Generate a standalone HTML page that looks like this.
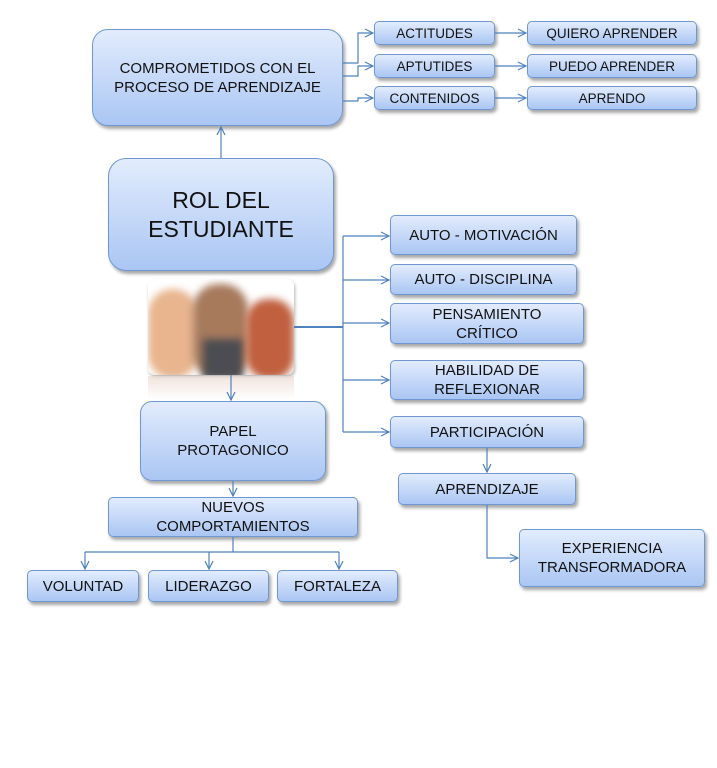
<!DOCTYPE html>
<html><head><meta charset="utf-8"><style>
body{margin:0;width:717px;height:768px;background:#fff;position:relative;overflow:hidden;font-family:"Liberation Sans","DejaVu Sans",sans-serif;}
.b{position:absolute;box-sizing:border-box;border:1px solid #6f97d2;border-radius:5px;background:linear-gradient(#e2ecfd,#aac6f3);box-shadow:2px 3px 3px rgba(0,0,0,.35);display:flex;align-items:center;justify-content:center;text-align:center;color:#111;font-size:15px;line-height:19px;}
.s{font-size:13.5px;}
svg{position:absolute;left:0;top:0;z-index:5;}
</style></head><body>
<svg width="717" height="768" fill="none" stroke="#4f81bd" stroke-width="1.2">
<defs><marker id="a" markerWidth="10" markerHeight="10" refX="9" refY="5" orient="auto" markerUnits="userSpaceOnUse"><path d="M1,1 L9,5 L1,9" stroke="#4f81bd" fill="none"/></marker></defs>
<path d="M343,63H358V33H373" marker-end="url(#a)"/>
<path d="M343,76H358V66H373" marker-end="url(#a)"/>
<path d="M343,101H358V98H373" marker-end="url(#a)"/>
<path d="M495,33H526" marker-end="url(#a)"/>
<path d="M495,66H526" marker-end="url(#a)"/>
<path d="M495,98H526" marker-end="url(#a)"/>
<path d="M221,158V127" marker-end="url(#a)"/>
<path d="M294,327H343" stroke-width="2"/>
<path d="M343,236V432"/>
<path d="M343,236H389" marker-end="url(#a)"/>
<path d="M343,280H389" marker-end="url(#a)"/>
<path d="M343,323H389" marker-end="url(#a)"/>
<path d="M343,380H389" marker-end="url(#a)"/>
<path d="M343,432H389" marker-end="url(#a)"/>
<path d="M231,375V400" marker-end="url(#a)"/>
<path d="M233,481V496" marker-end="url(#a)"/>
<path d="M233,537V552M85,552H339"/>
<path d="M85,552V569" marker-end="url(#a)"/>
<path d="M209,552V569" marker-end="url(#a)"/>
<path d="M339,552V569" marker-end="url(#a)"/>
<path d="M487,448V472" marker-end="url(#a)"/>
<path d="M487,505V558H518" marker-end="url(#a)"/>
</svg>
<div class="b" style="left:92px;top:29px;width:251px;height:97px;border-radius:16px;">COMPROMETIDOS CON EL<br>PROCESO DE APRENDIZAJE</div>
<div class="b s" style="left:374px;top:21px;width:121px;height:24px;">ACTITUDES</div>
<div class="b s" style="left:374px;top:54px;width:121px;height:24px;">APTUTIDES</div>
<div class="b s" style="left:374px;top:86px;width:121px;height:24px;">CONTENIDOS</div>
<div class="b s" style="left:527px;top:21px;width:170px;height:24px;">QUIERO APRENDER</div>
<div class="b s" style="left:527px;top:54px;width:170px;height:24px;">PUEDO APRENDER</div>
<div class="b s" style="left:527px;top:86px;width:170px;height:24px;">APRENDO</div>
<div class="b" style="left:108px;top:158px;width:226px;height:113px;border-radius:18px;font-size:23px;line-height:29px;">ROL DEL<br>ESTUDIANTE</div>
<div style="position:absolute;left:148px;top:279px;width:146px;height:96px;border-radius:7px;overflow:hidden;background:#fff;box-shadow:1px 2px 3px rgba(0,0,0,.3);">
<div style="position:absolute;left:0;top:10px;width:50px;height:90px;border-radius:25px;background:#e8b58e;filter:blur(4px)"></div>
<div style="position:absolute;left:45px;top:5px;width:55px;height:95px;border-radius:25px;background:#a77a5c;filter:blur(4px)"></div>
<div style="position:absolute;left:55px;top:60px;width:40px;height:40px;background:#4b4d52;filter:blur(4px)"></div>
<div style="position:absolute;left:98px;top:20px;width:48px;height:80px;border-radius:22px;background:#c0603f;filter:blur(4px)"></div>
</div>
<div style="position:absolute;left:148px;top:376px;width:146px;height:24px;background:linear-gradient(#ead8d0,#fff);opacity:.7;"></div>
<div class="b" style="left:140px;top:401px;width:186px;height:80px;border-radius:12px;">PAPEL<br>PROTAGONICO</div>
<div class="b" style="left:108px;top:497px;width:250px;height:40px;">NUEVOS<br>COMPORTAMIENTOS</div>
<div class="b" style="left:27px;top:570px;width:112px;height:32px;">VOLUNTAD</div>
<div class="b" style="left:148px;top:570px;width:121px;height:32px;">LIDERAZGO</div>
<div class="b" style="left:277px;top:570px;width:121px;height:32px;">FORTALEZA</div>
<div class="b" style="left:390px;top:215px;width:187px;height:40px;">AUTO - MOTIVACIÓN</div>
<div class="b" style="left:390px;top:264px;width:187px;height:31px;">AUTO - DISCIPLINA</div>
<div class="b" style="left:390px;top:303px;width:194px;height:41px;">PENSAMIENTO<br>CRÍTICO</div>
<div class="b" style="left:390px;top:360px;width:194px;height:40px;">HABILIDAD DE<br>REFLEXIONAR</div>
<div class="b" style="left:390px;top:416px;width:194px;height:32px;">PARTICIPACIÓN</div>
<div class="b" style="left:398px;top:473px;width:178px;height:32px;">APRENDIZAJE</div>
<div class="b" style="left:519px;top:529px;width:186px;height:58px;">EXPERIENCIA<br>TRANSFORMADORA</div>
</body></html>
